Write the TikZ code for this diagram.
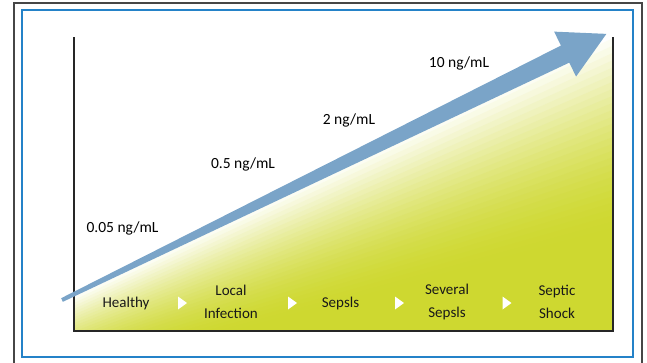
\documentclass[tikz,border=0pt]{standalone}
\usepackage{fontspec}
\setmainfont{Carlito}
\usepackage{xcolor}
\usetikzlibrary{shapes.geometric}
\definecolor{chartgreen}{RGB}{206,216,48}
\definecolor{arrowblue}{RGB}{122,164,200}
\definecolor{frameblue}{RGB}{36,130,200}
\definecolor{framegray}{RGB}{70,70,70}
\tikzset{
  level/.style      = {font=\fontsize{15.5}{19}\selectfont, text=black,
                       inner sep=1pt},                 % ng/mL values
  stage/.style      = {font=\fontsize{15}{23}\selectfont, text=black!90,
                       align=center, inner sep=1pt},   % disease stages
  axisline/.style   = {line width=1.3pt, black!85},
  marker/.style     = {fill=white}
}

\begin{document}
\begin{tikzpicture}[x=1pt, y=-1pt]
  \useasboundingbox (0,0) rectangle (647,362);
  % frames
  \draw[framegray, line width=2pt] (14,3) rectangle (642,372);
  \draw[frameblue, line width=2pt] (22,10) rectangle (633,357);
  % shaded area under the arrow
  \begin{scope}
    \clip (74,37) rectangle (613,331);
    \begin{scope}[shift={(62,300)}, rotate=26.05]
      \foreach \i in {0,...,29} {
        \pgfmathsetmacro\a{\i/30}
        \pgfmathsetmacro\b{(\i+1.4)/30}
        \pgfmathsetmacro\c{100*(1-(1-\i/29)^1.7)}
        \fill[chartgreen!\c!white] (-40,\a*70) -- (720,\a*222)
          -- (720,\b*222) -- (-40,\b*70) -- cycle;
      }
      \fill[chartgreen] (-40,70) -- (720,222) -- (720,600) -- (-40,600) -- cycle;
    \end{scope}
  \end{scope}
  % axes
  \draw[axisline] (74,37) -- (74,331) -- (613,331) -- (613,37);
  % rising arrow
  \begin{scope}[shift={(62,300)}, rotate=26.05]
    \coordinate (arrowtail) at (0,0);
    \coordinate (arrowtip) at (606,0);
    \fill[arrowblue] (0,-2) -- (560,-9.5) -- (560,-25) -- (arrowtip)
      -- (560,25) -- (560,9.5) -- (0,2) -- cycle;
  \end{scope}
  % levels
  \node[level] (lvla) at (122.5,228) {0.05 ng/mL};
  \node[level] (lvlb) at (243,164) {0.5 ng/mL};
  \node[level] (lvlc) at (349,120) {2 ng/mL};
  \node[level] (lvld) at (459,63) {10 ng/mL};
  % stages
  \node[stage] (healthy) at (126,303) {Healthy};
  \node[stage] (local)   at (231,301.5) {Local\\Infection};
  \node[stage] (sepsis)  at (340.5,303) {Sepsls};
  \node[stage] (severe)  at (447,301.5) {Several\\Sepsls};
  \node[stage] (shock)   at (557,301.5) {Septic\\Shock};
  \foreach \x in {182.5,292.5,399.5,507}
    \fill[marker] (\x-4.5,296.5) -- (\x+4.5,303) -- (\x-4.5,309.5) -- cycle;
\end{tikzpicture}
\end{document}
